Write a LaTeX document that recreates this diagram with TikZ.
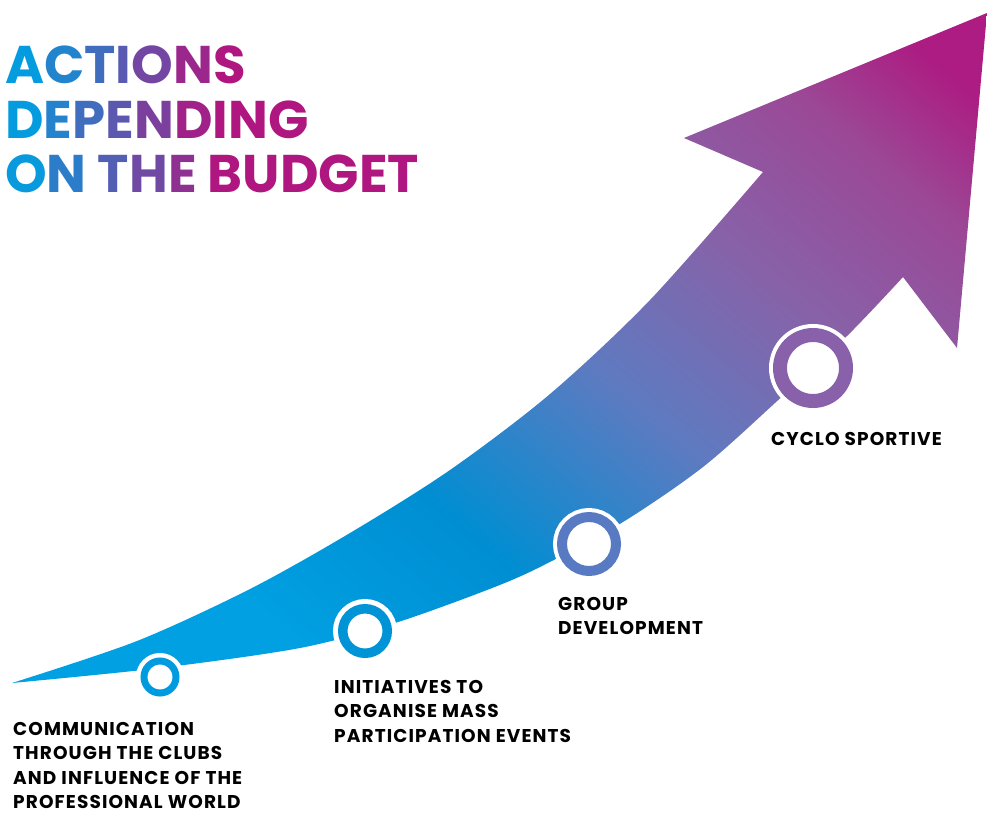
\documentclass[tikz,border=0pt]{standalone}
\usepackage{fontspec}
\setmainfont{Poppins}
\newfontfamily\labelfont{Poppins}[LetterSpace=6]

\definecolor{tblue}{RGB}{0,160,226}
\definecolor{tmag}{RGB}{176,22,128}
\definecolor{ablue}{RGB}{0,160,226}
\definecolor{adark}{RGB}{0,142,210}
\definecolor{aviolet}{RGB}{95,122,192}
\definecolor{apurple}{RGB}{135,98,168}
\definecolor{aplum}{RGB}{155,72,150}
\definecolor{amag}{RGB}{172,28,130}
\definecolor{ring1}{RGB}{0,155,222}
\definecolor{ring2}{RGB}{0,148,214}
\definecolor{ring3}{RGB}{88,122,194}
\definecolor{ring4}{RGB}{137,97,170}

\pgfdeclarehorizontalshading{arrowshade}{100bp}{color(0bp)=(ablue); color(28bp)=(ablue); color(40bp)=(adark); color(53bp)=(aviolet); color(64bp)=(apurple); color(74bp)=(aplum); color(81bp)=(amag); color(100bp)=(amag)}

% one letter of the title, pct of magenta
\newcommand{\tc}[2]{{\color{tmag!#1!tblue}#2}}

\tikzset{
  milestone/.style n args={4}{circle, inner sep=0pt, minimum size=#2, fill=white,
    draw=#1, line width=#3, preaction={draw=white, line width=#4}},
  caption/.style={anchor=north west, inner sep=0pt, align=left,
    font=\labelfont\bfseries\fontsize{18.5}{24.4}\selectfont},
  heading/.style={anchor=base west, inner sep=0pt, font=\bfseries\fontsize{53}{54.5}\selectfont}
}

\begin{document}
\begin{tikzpicture}[x=1pt,y=-1pt]
  \useasboundingbox (0,0) rectangle (987,814);

  % the arrow
  \shade[shading=arrowshade, shading angle=50]
    plot[smooth] coordinates {(12,683) (137,641) (250,589) (350,533) (450,470) (550,394) (650,300) (763,172)}
    -- (684,138) -- (987,13) -- (957,348) -- (903,277)
    -- plot[smooth] coordinates {(903,277) (848,335) (775,403) (703,467) (623,522) (540,567) (487,590) (395,623) (300,648) (160,668) (12,683)}
    -- cycle;

  % the steps
  \begin{scope}
    \node[milestone={ring1}{32pt}{7pt}{16pt}]       (m1) at (160,677) {};
    \node[milestone={ring2}{44.5pt}{9.5pt}{19.5pt}] (m2) at (365,631) {};
    \node[milestone={ring3}{54pt}{10pt}{18pt}]      (m3) at (589,544) {};
    \node[milestone={ring4}{66pt}{14pt}{22pt}]      (m4) at (813,368) {};
  \end{scope}

  \begin{scope}
    \node[caption] (l1) at (13,722) {COMMUNICATION\\THROUGH THE CLUBS\\AND INFLUENCE OF THE\\PROFESSIONAL WORLD};
    \node[caption] (l2) at (334,680) {INITIATIVES TO\\ORGANISE MASS\\PARTICIPATION EVENTS};
    \node[caption] (l3) at (558,597) {GROUP\\DEVELOPMENT};
    \node[caption] (l4) at (771,432) {CYCLO SPORTIVE};
  \end{scope}

  % title
  \node[heading] (t1) at (5,83)  {\tc{3}{A}\tc{20}{C}\tc{37}{T}\tc{50}{I}\tc{65}{O}\tc{88}{N}\tc{100}{S}};
  \node[heading] (t2) at (5,138) {\tc{3}{D}\tc{21}{E}\tc{37}{P}\tc{52}{E}\tc{70}{N}\tc{91}{D}\tc{100}{I}\tc{100}{N}\tc{100}{G}};
  \node[heading] (t3) at (5,192) {\tc{5}{O}\tc{25}{N} \tc{47}{T}\tc{63}{H}\tc{81}{E} \tc{100}{B}\tc{100}{U}\tc{100}{D}\tc{100}{G}\tc{100}{E}\tc{100}{T}};

\end{tikzpicture}
\end{document}
